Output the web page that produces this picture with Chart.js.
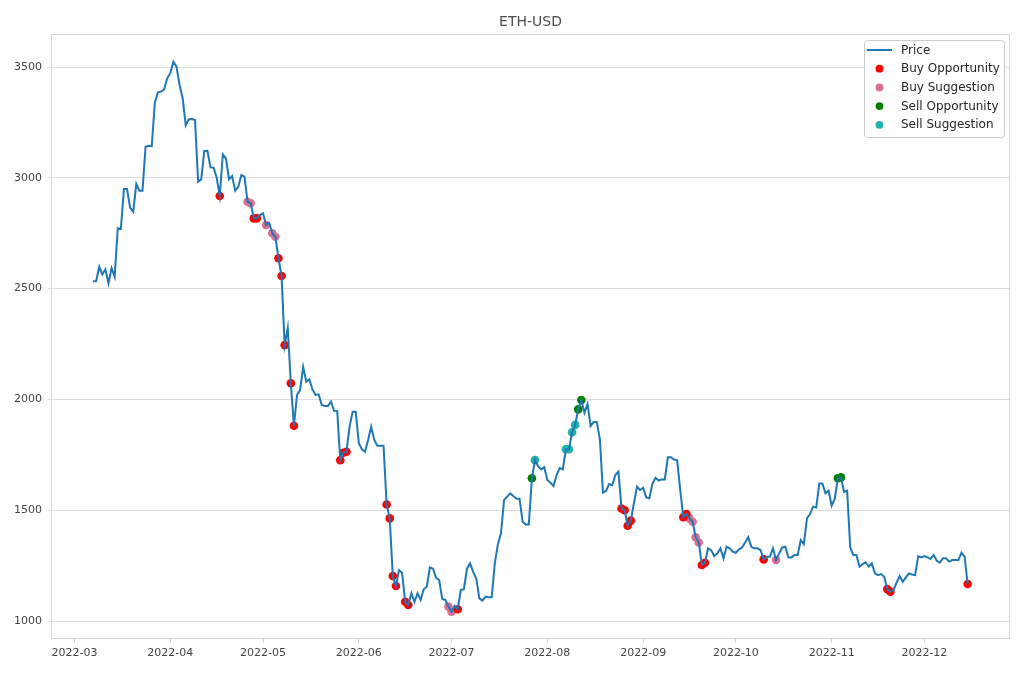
<!DOCTYPE html>
<html>
<head>
<meta charset="utf-8">
<title>ETH-USD</title>
<script src="https://cdn.jsdelivr.net/npm/chart.js@4.4.1/dist/chart.umd.min.js"></script>
<style>
  html, body { margin: 0; padding: 0; background: #fff; }
  #wrap { width: 1020px; height: 680px; }
</style>
</head>
<body>
<div id="wrap"><canvas id="chart" width="1020" height="680"></canvas></div>
<script>
// daily close, first value is 2022-03-07
const startDate = '2022-03-07';
const prices = [
  2533, 2533, 2599, 2564, 2587, 2524, 2592, 2554, 2772, 2769,
  2949, 2949, 2865, 2847, 2972, 2942, 2942, 3140, 3145, 3143,
  3339, 3386, 3389, 3399, 3449, 3472, 3524, 3502, 3419, 3359,
  3237, 3264, 3265, 3261, 2982, 2993, 3121, 3122, 3047, 3046,
  3002, 2918, 3106, 3088, 2993, 3008, 2942, 2960, 3013, 3005,
  2892, 2885, 2817, 2817, 2832, 2840, 2787, 2797, 2750, 2734,
  2637, 2557, 2245, 2323, 2073, 1881, 2020, 2042, 2147, 2080,
  2091, 2045, 2020, 2023, 1975, 1970, 1970, 1990, 1949, 1948,
  1726, 1759, 1764, 1877, 1944, 1944, 1802, 1775, 1764, 1817,
  1877, 1817, 1791, 1791, 1791, 1526, 1463, 1203, 1158, 1230,
  1218, 1087, 1072, 1125, 1087, 1125, 1095, 1143, 1155, 1242,
  1236, 1195, 1185, 1099, 1095, 1065, 1042, 1068, 1053, 1140,
  1144, 1236, 1260, 1222, 1192, 1102, 1092, 1110, 1107, 1107,
  1260, 1347, 1396, 1546, 1561, 1576, 1564, 1552, 1552, 1448,
  1436, 1436, 1644, 1726, 1699, 1684, 1694, 1636, 1624, 1609,
  1659, 1690, 1684, 1775, 1775, 1852, 1885, 1955, 1997, 1940,
  1979, 1880, 1898, 1898, 1820, 1579, 1587, 1618, 1613, 1659,
  1674, 1508, 1500, 1430, 1453, 1531, 1606, 1591, 1601, 1558,
  1554, 1619, 1646, 1634, 1639, 1639, 1739, 1739, 1729, 1726,
  1591, 1468, 1483, 1463, 1448, 1378, 1354, 1253, 1263, 1328,
  1320, 1293, 1305, 1328, 1283, 1335, 1328, 1313, 1308, 1323,
  1332, 1354, 1378, 1335, 1328, 1328, 1320, 1278, 1290, 1290,
  1328, 1275, 1305, 1332, 1335, 1287, 1287, 1298, 1298, 1365,
  1347, 1463, 1483, 1516, 1512, 1621, 1621, 1576, 1588, 1520,
  1552, 1644, 1648, 1583, 1588, 1332, 1298, 1298, 1245, 1257,
  1265, 1245, 1260, 1215, 1207, 1212, 1200, 1144, 1132, 1140,
  1173, 1203, 1177, 1197, 1215, 1210, 1207, 1293, 1287, 1293,
  1287, 1280, 1298, 1272, 1263, 1283, 1283, 1268, 1275, 1275,
  1275, 1308, 1290, 1167
];

// signal days, as index into prices
const buyOpportunityDays = [41, 52, 53, 60, 61, 62, 64, 65, 80, 81, 82, 95, 96, 97, 98,
  101, 102, 118, 171, 172, 173, 174, 191, 192, 197, 198, 217, 257, 258, 283];
const buySuggestionDays = [50, 51, 56, 58, 59, 115, 116, 193, 194, 195, 196, 221];
const sellOpportunityDays = [142, 157, 158, 241, 242];
const sellSuggestionDays = [143, 153, 154, 155, 156];

const monthLabels = ['2022-03', '2022-04', '2022-05', '2022-06', '2022-07',
  '2022-08', '2022-09', '2022-10', '2022-11', '2022-12'];
const yTicks = [1000, 1500, 2000, 2500, 3000, 3500];
const chartTitle = 'ETH-USD';

// x axis is days since 2022-03-01
const DAY = 86400000;
const origin = Date.UTC(2022, 2, 1);
function dayOf(str) {
  const [y, m, d] = str.split('-').map(Number);
  return (Date.UTC(y, m - 1, d || 1) - origin) / DAY;
}
const firstDay = dayOf(startDate);
const monthStarts = monthLabels.map(dayOf);

const pricePoints = prices.map((p, i) => ({ x: firstDay + i, y: p }));
const pick = days => days.map(i => pricePoints[i]);

const FONT = "'DejaVu Sans', sans-serif";

// title centred over the plot, like matplotlib does
const plotTitle = {
  id: 'plotTitle',
  afterDraw(chart) {
    const { ctx, chartArea: a } = chart;
    ctx.save();
    ctx.font = '14px ' + FONT;
    ctx.fillStyle = '#4d4d4d';
    ctx.textAlign = 'center';
    ctx.textBaseline = 'middle';
    ctx.fillText(chartTitle, (a.left + a.right) / 2, 22);
    ctx.restore();
  }
};

// matplotlib style legend in the upper right of the plot
const boxLegend = {
  id: 'boxLegend',
  afterDraw(chart) {
    const { ctx, chartArea } = chart;
    const w = 140, h = 97;
    const x0 = chartArea.right - 6 - w, y0 = chartArea.top + 6;
    ctx.save();
    ctx.beginPath();
    ctx.roundRect(x0 + 0.5, y0 + 0.5, w, h, 3);
    ctx.fillStyle = 'rgba(255,255,255,0.85)';
    ctx.fill();
    ctx.strokeStyle = '#cccccc';
    ctx.lineWidth = 1;
    ctx.stroke();
    ctx.font = '12px ' + FONT;
    ctx.textBaseline = 'middle';
    chart.data.datasets.forEach((ds, i) => {
      const cy = y0 + 10 + i * 18.7;
      if (ds.type === 'line') {
        ctx.strokeStyle = ds.borderColor;
        ctx.lineWidth = 2;
        ctx.beginPath();
        ctx.moveTo(x0 + 3, cy);
        ctx.lineTo(x0 + 28, cy);
        ctx.stroke();
      } else {
        ctx.fillStyle = ds.backgroundColor;
        ctx.beginPath();
        ctx.arc(x0 + 15.5, cy, 3.9, 0, Math.PI * 2);
        ctx.fill();
      }
      ctx.fillStyle = '#262626';
      ctx.fillText(ds.label, x0 + 37, cy + 0.5);
    });
    ctx.restore();
  }
};

// light frame around the plot
const frame = {
  id: 'frame',
  afterDraw(chart) {
    const { ctx, chartArea: a } = chart;
    ctx.save();
    ctx.strokeStyle = '#d6d6d6';
    ctx.lineWidth = 1;
    ctx.strokeRect(Math.round(a.left) + 0.5, Math.round(a.top) + 0.5,
      Math.round(a.right - a.left) - 1, Math.round(a.bottom - a.top) - 1);
    ctx.restore();
  }
};

new Chart(document.getElementById('chart').getContext('2d'), {
  type: 'scatter',
  data: {
    datasets: [
      {
        type: 'line',
        label: 'Price',
        data: pricePoints,
        borderColor: '#1f77b4',
        backgroundColor: '#1f77b4',
        borderWidth: 2,
        pointRadius: 0,
        tension: 0,
        order: 0,
      },
      { label: 'Buy Opportunity', data: pick(buyOpportunityDays), backgroundColor: '#ff0000', pointRadius: 4.3, borderWidth: 0, order: 1 },
      { label: 'Buy Suggestion', data: pick(buySuggestionDays), backgroundColor: '#db7093', pointRadius: 4.3, borderWidth: 0, order: 1 },
      { label: 'Sell Opportunity', data: pick(sellOpportunityDays), backgroundColor: '#008000', pointRadius: 4.3, borderWidth: 0, order: 1 },
      { label: 'Sell Suggestion', data: pick(sellSuggestionDays), backgroundColor: '#20b2aa', pointRadius: 4.3, borderWidth: 0, order: 1 },
    ],
  },
  options: {
    responsive: false,
    animation: false,
    layout: { padding: { left: 0, right: 10, top: 34, bottom: 0 } },
    plugins: {
      legend: { display: false },
      tooltip: { enabled: false },
      title: { display: false },
    },
    scales: {
      x: {
        type: 'linear',
        min: -7.6,
        max: 302.7,
        afterFit: s => { s.height = 41; },
        afterBuildTicks: s => { s.ticks = monthStarts.map(v => ({ value: v })); },
        grid: { drawOnChartArea: false, drawTicks: true, tickLength: 4, color: '#d6d6d6' },
        border: { display: false },
        ticks: {
          autoSkip: false,
          maxRotation: 0,
          padding: 3.5,
          color: '#444444',
          font: { family: FONT, size: 11 },
          callback: v => monthLabels[monthStarts.indexOf(v)],
        },
      },
      y: {
        min: 918.8,
        max: 3649,
        afterFit: s => { s.width = 51; },
        afterBuildTicks: s => { s.ticks = yTicks.map(v => ({ value: v })); },
        grid: { color: '#dddddd', tickLength: 3.5, drawTicks: true },
        border: { display: false },
        ticks: {
          padding: 5.5,
          color: '#444444',
          font: { family: FONT, size: 11 },
          callback: v => String(v),
        },
      },
    },
  },
  plugins: [plotTitle, boxLegend, frame],
});
</script>
</body>
</html>
